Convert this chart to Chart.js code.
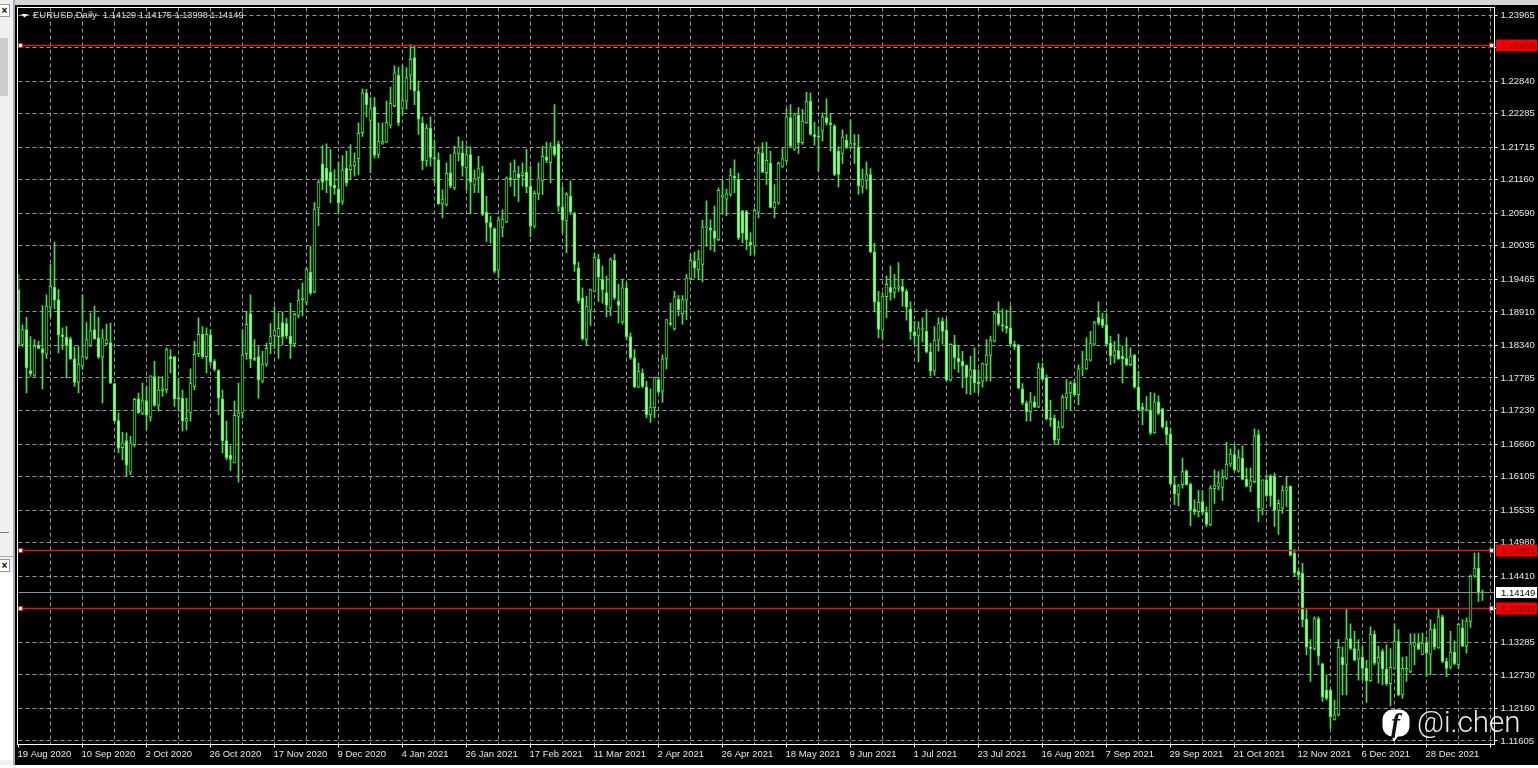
<!DOCTYPE html>
<html>
<head>
<meta charset="utf-8">
<title>EURUSD Daily</title>
<script src="https://cdn.jsdelivr.net/npm/chart.js@4/dist/chart.umd.min.js"></script>
<style>
  html, body { margin: 0; padding: 0; background: #000; overflow: hidden; }
  #wrap { position: relative; width: 1538px; height: 768px; overflow: hidden; }
  #chart { position: absolute; left: 0; top: 0; }
  .ui { position: absolute; }
  .closeBtn { position: absolute; left: 0; width: 9px; height: 11px; background: #fff; border: 1px solid #999; border-left: 0;
    font: bold 10px/11px "Liberation Sans", sans-serif; color: #000; text-align: center; }
  #fb { position: absolute; left: 1382px; top: 709px; }
  #tag { position: absolute; left: 1417px; top: 703px; font: 300 29.5px/38px Roboto, sans-serif; color: rgba(255,255,255,0.92); white-space: nowrap; }
</style>
</head>
<body>
<div id="wrap">
  <div class="ui" style="left:0;top:0;width:1538px;height:5px;background:#d4d4d4"></div>
  <div class="ui" style="left:0;top:0;width:13px;height:765px;background:#f0f0f0"></div>
  <div class="ui" style="left:13px;top:0;width:2px;height:765px;background:#a9a9a9"></div>
  <div class="ui" style="left:0;top:38px;width:8px;height:58px;background:#cdcdcd"></div>
  <div class="ui" style="left:0;top:532px;width:9px;height:1px;background:#777"></div>
  <div class="ui" style="left:0;top:556px;width:13px;height:1px;background:#aaa"></div>
  <div class="ui" style="left:0;top:573px;width:13px;height:187px;background:#fff"></div>
  <div class="ui" style="left:0;top:765px;width:1538px;height:3px;background:#fff"></div>
  <div class="closeBtn" style="top:4px">×</div>
  <div class="closeBtn" style="top:559px">×</div>
  <canvas id="chart" width="1538" height="768"></canvas>
  <svg id="fb" width="28" height="34" viewBox="0 0 28 34">
    <rect x="0.5" y="0.5" width="27" height="27" rx="10" fill="#fff"/>
    <polygon points="8,24 17,26 12,33" fill="#fff"/>
    <text x="13.5" y="23" text-anchor="middle" font-family="Liberation Serif" font-style="italic" font-weight="bold" font-size="27" fill="#111">f</text>
  </svg>
  <div id="tag">@i.chen</div>
</div>
<script>
const dateLabels = ["19 Aug 2020", "10 Sep 2020", "2 Oct 2020", "26 Oct 2020", "17 Nov 2020", "9 Dec 2020", "4 Jan 2021", "26 Jan 2021",
  "17 Feb 2021", "11 Mar 2021", "2 Apr 2021", "26 Apr 2021", "18 May 2021", "9 Jun 2021", "1 Jul 2021", "23 Jul 2021",
  "16 Aug 2021", "7 Sep 2021", "29 Sep 2021", "21 Oct 2021", "12 Nov 2021", "6 Dec 2021", "28 Dec 2021"];

const priceTicks = [1.23965, 1.2341, 1.2284, 1.22285, 1.21715, 1.2116, 1.2059, 1.20035, 1.19465, 1.1891, 1.1834, 1.17785,
  1.1723, 1.1666, 1.16105, 1.15535, 1.1498, 1.1441, 1.13855, 1.13285, 1.1273, 1.1216, 1.11605];

const redLevels = [1.23458, 1.14861, 1.13862];
const lastPrice = 1.14149;

const opens = [
  1.1929,1.1835,1.1861,1.1791,1.1783,1.1834,1.1828,1.1819,1.1899,1.1933,1.1912,1.1852,1.1848,1.1845,1.1811,1.1771,
  1.1799,1.1813,1.1834,1.1861,1.1847,1.1814,1.1837,1.1839,1.1769,1.1706,1.1660,1.1672,1.1618,1.1665,1.1743,1.1718,
  1.1740,1.1712,1.1781,1.1732,1.1757,1.1758,1.1815,1.1815,1.1744,1.1744,1.1705,1.1719,1.1764,1.1820,1.1853,1.1815,
  1.1852,1.1807,1.1791,1.1743,1.1672,1.1647,1.1634,1.1713,1.1719,1.1820,1.1888,1.1812,1.1815,1.1773,1.1802,1.1837,
  1.1850,1.1849,1.1873,1.1871,1.1850,1.1837,1.1885,1.1912,1.1907,1.1959,1.1925,1.2068,1.2143,1.2136,1.2129,1.2107,
  1.2100,1.2079,1.2136,1.2133,1.2140,1.2152,1.2196,1.2264,1.2217,1.2240,1.2159,1.2178,1.2180,1.2209,1.2242,1.2294,
  1.2238,1.2250,1.2294,1.2324,1.2267,1.2213,1.2148,1.2204,1.2153,1.2150,1.2075,1.2074,1.2128,1.2102,1.2161,1.2162,
  1.2136,1.2159,1.2107,1.2119,1.2128,1.2061,1.2043,1.2033,1.1962,1.2035,1.2044,1.2119,1.2116,1.2126,1.2123,1.2129,
  1.2105,1.2037,1.2092,1.2114,1.2155,1.2145,1.2173,1.2177,1.2070,1.2046,1.2088,1.2059,1.1966,1.1915,1.1844,1.1894,
  1.1926,1.1981,1.1947,1.1924,1.1898,1.1979,1.1909,1.1874,1.1932,1.1849,1.1813,1.1763,1.1787,1.1763,1.1716,1.1728,
  1.1776,1.1756,1.1811,1.1872,1.1862,1.1913,1.1888,1.1911,1.1947,1.1978,1.1963,1.1972,1.2035,1.2034,1.2029,1.2014,
  1.2087,1.2083,1.2091,1.2122,1.2117,1.2063,1.2062,1.2010,1.2003,1.2061,1.2162,1.2128,1.2144,1.2068,1.2076,1.2138,
  1.2148,1.2222,1.2168,1.2226,1.2179,1.2213,1.2250,1.2193,1.2190,1.2199,1.2222,1.2213,1.2208,1.2165,1.2161,1.2183,
  1.2171,1.2177,1.2172,1.2104,1.2115,1.2125,1.1993,1.1908,1.1860,1.1917,1.1933,1.1924,1.1931,1.1934,1.1926,1.1896,
  1.1857,1.1850,1.1861,1.1858,1.1823,1.1790,1.1843,1.1875,1.1860,1.1775,1.1835,1.1812,1.1807,1.1800,1.1781,1.1793,
  1.1771,1.1773,1.1801,1.1817,1.1841,1.1888,1.1869,1.1867,1.1864,1.1836,1.1834,1.1760,1.1736,1.1721,1.1738,1.1729,
  1.1796,1.1779,1.1709,1.1710,1.1673,1.1695,1.1745,1.1753,1.1770,1.1750,1.1794,1.1794,1.1809,1.1836,1.1882,1.1879,
  1.1869,1.1838,1.1816,1.1825,1.1816,1.1812,1.1801,1.1817,1.1763,1.1729,1.1723,1.1724,1.1685,1.1738,1.1726,1.1695,
  1.1683,1.1597,1.1580,1.1597,1.1620,1.1598,1.1555,1.1551,1.1568,1.1550,1.1529,1.1590,1.1594,1.1592,1.1608,1.1632,
  1.1648,1.1620,1.1642,1.1606,1.1594,1.1602,1.1682,1.1555,1.1605,1.1612,1.1612,1.1553,1.1557,1.1587,1.1594,1.1480,
  1.1449,1.1446,1.1368,1.1320,1.1318,1.1369,1.1292,1.1247,1.1247,1.1197,1.1205,1.1303,1.1291,1.1335,1.1318,1.1300,
  1.1303,1.1284,1.1263,1.1342,1.1293,1.1313,1.1283,1.1258,1.1284,1.1330,1.1239,1.1281,1.1279,1.1322,1.1327,1.1308,
  1.1328,1.1308,1.1351,1.1319,1.1372,1.1296,1.1286,1.1312,1.1290,1.1353,1.1322,1.1364,1.1441,1.1455,1.14129];

const highs = [
  1.1955,1.1869,1.1882,1.1849,1.1844,1.1841,1.1902,1.1920,1.1972,1.2010,1.1929,1.1864,1.1866,1.1848,1.1832,1.1832,
  1.1920,1.1873,1.1889,1.1901,1.1882,1.1861,1.1870,1.1872,1.1769,1.1719,1.1686,1.1685,1.1679,1.1744,1.1753,1.1770,
  1.1764,1.1782,1.1807,1.1781,1.1781,1.1830,1.1827,1.1815,1.1778,1.1758,1.1744,1.1794,1.1841,1.1881,1.1866,1.1864,
  1.1861,1.1810,1.1793,1.1758,1.1705,1.1662,1.1739,1.1770,1.1861,1.1892,1.1920,1.1844,1.1832,1.1824,1.1838,1.1871,
  1.1900,1.1889,1.1891,1.1880,1.1906,1.1889,1.1929,1.1940,1.1966,1.2003,1.2077,1.2116,1.2174,1.2177,1.2168,1.2133,
  1.2146,1.2157,1.2165,1.2176,1.2162,1.2213,1.2271,1.2270,1.2256,1.2256,1.2213,1.2213,1.2250,1.2274,1.2310,1.2308,
  1.2311,1.2307,1.2346,1.2345,1.2284,1.2223,1.2210,1.2223,1.2184,1.2162,1.2099,1.2145,1.2159,1.2173,1.2189,1.2182,
  1.2174,1.2172,1.2133,1.2156,1.2139,1.2088,1.2054,1.2034,1.2053,1.2065,1.2121,1.2145,1.2150,1.2139,1.2145,1.2168,
  1.2139,1.2097,1.2145,1.2173,1.2180,1.2179,1.2244,1.2182,1.2104,1.2094,1.2114,1.2061,1.1976,1.1932,1.1918,1.1930,
  1.1991,1.1989,1.1969,1.1952,1.1983,1.1989,1.1938,1.1947,1.1941,1.1855,1.1827,1.1804,1.1794,1.1773,1.1760,1.1780,
  1.1780,1.1818,1.1878,1.1906,1.1926,1.1919,1.1919,1.1955,1.1989,1.1993,1.1996,1.2047,1.2080,1.2048,1.2071,1.2102,
  1.2115,1.2100,1.2135,1.2150,1.2127,1.2064,1.2064,1.2026,1.2067,1.2172,1.2179,1.2180,1.2165,1.2108,1.2146,1.2169,
  1.2236,1.2244,1.2229,1.2239,1.2236,1.2265,1.2264,1.2214,1.2206,1.2230,1.2254,1.2229,1.2210,1.2172,1.2201,1.2193,
  1.2218,1.2193,1.2193,1.2134,1.2146,1.2135,1.2008,1.1926,1.1924,1.1952,1.1969,1.1955,1.1975,1.1945,1.1930,1.1908,
  1.1875,1.1874,1.1881,1.1895,1.1838,1.1866,1.1881,1.1881,1.1879,1.1837,1.1851,1.1833,1.1824,1.1801,1.1816,1.1830,
  1.1793,1.1804,1.1844,1.1850,1.1892,1.1908,1.1896,1.1894,1.1901,1.1841,1.1836,1.1769,1.1739,1.1754,1.1747,1.1804,
  1.1804,1.1784,1.1741,1.1716,1.1705,1.1750,1.1776,1.1773,1.1776,1.1801,1.1824,1.1847,1.1858,1.1875,1.1908,1.1889,
  1.1888,1.1850,1.1841,1.1853,1.1833,1.1847,1.1830,1.1819,1.1790,1.1736,1.1747,1.1754,1.1753,1.1748,1.1727,1.1705,
  1.1693,1.1611,1.1597,1.1642,1.1622,1.1600,1.1571,1.1587,1.1587,1.1559,1.1595,1.1622,1.1619,1.1622,1.1669,1.1658,
  1.1666,1.1656,1.1663,1.1625,1.1625,1.1692,1.1690,1.1605,1.1614,1.1614,1.1617,1.1571,1.1595,1.1610,1.1595,1.1487,
  1.1452,1.1463,1.1384,1.1333,1.1372,1.1372,1.1293,1.1273,1.1248,1.1230,1.1333,1.1321,1.1385,1.1360,1.1347,1.1333,
  1.1321,1.1298,1.1355,1.1348,1.1322,1.1317,1.1324,1.1318,1.1360,1.1350,1.1303,1.1304,1.1343,1.1343,1.1343,1.1344,
  1.1338,1.1367,1.1360,1.1385,1.1375,1.1301,1.1347,1.1331,1.1361,1.1367,1.1370,1.1443,1.1481,1.1481,1.14175];

const lows = [
  1.1830,1.1832,1.1753,1.1781,1.1781,1.1828,1.1760,1.1812,1.1882,1.1896,1.1821,1.1827,1.1778,1.1810,1.1764,1.1753,
  1.1793,1.1810,1.1832,1.1844,1.1812,1.1736,1.1835,1.1769,1.1705,1.1651,1.1639,1.1612,1.1614,1.1661,1.1718,1.1716,
  1.1690,1.1705,1.1730,1.1722,1.1747,1.1753,1.1787,1.1730,1.1722,1.1688,1.1690,1.1705,1.1758,1.1815,1.1812,1.1787,
  1.1801,1.1790,1.1716,1.1651,1.1639,1.1621,1.1634,1.1601,1.1710,1.1810,1.1796,1.1808,1.1744,1.1770,1.1798,1.1820,
  1.1829,1.1812,1.1835,1.1846,1.1812,1.1832,1.1881,1.1884,1.1903,1.1920,1.1923,1.2038,1.2099,1.2094,1.2077,1.2091,
  1.2060,1.2074,1.2105,1.2116,1.2122,1.2125,1.2190,1.2223,1.2128,1.2153,1.2153,1.2176,1.2179,1.2204,1.2240,1.2208,
  1.2227,1.2236,1.2270,1.2244,1.2193,1.2133,1.2139,1.2139,1.2111,1.2074,1.2051,1.2071,1.2102,1.2099,1.2148,1.2122,
  1.2099,1.2058,1.2094,1.2094,1.2055,1.2011,1.2008,1.1957,1.1949,1.2019,1.2043,1.2105,1.2088,1.2079,1.2105,1.2094,
  1.2019,1.2034,1.2082,1.2091,1.2145,1.2111,1.2156,1.2062,1.2026,1.1992,1.2057,1.1960,1.1906,1.1843,1.1834,1.1868,
  1.1925,1.1909,1.1906,1.1883,1.1884,1.1912,1.1872,1.1870,1.1844,1.1810,1.1762,1.1762,1.1762,1.1711,1.1703,1.1711,
  1.1753,1.1737,1.1794,1.1867,1.1860,1.1884,1.1870,1.1878,1.1946,1.1949,1.1946,1.1942,1.2003,1.1997,1.1993,1.2012,
  1.2057,1.2055,1.2088,1.2094,1.2014,1.2009,1.1997,1.1987,1.1989,1.2051,1.2128,1.2108,1.2068,1.2051,1.2074,1.2137,
  1.2146,1.2172,1.2166,1.2161,1.2176,1.2212,1.2192,1.2175,1.2131,1.2182,1.2209,1.2165,1.2123,1.2104,1.2144,1.2169,
  1.2169,1.2144,1.2091,1.2093,1.2100,1.1992,1.1891,1.1847,1.1845,1.1881,1.1911,1.1915,1.1926,1.1901,1.1877,1.1844,
  1.1836,1.1806,1.1840,1.1821,1.1782,1.1783,1.1824,1.1836,1.1773,1.1773,1.1794,1.1788,1.1762,1.1752,1.1750,1.1754,
  1.1753,1.1763,1.1773,1.1773,1.1840,1.1867,1.1858,1.1855,1.1833,1.1827,1.1760,1.1733,1.1705,1.1705,1.1728,1.1728,
  1.1776,1.1707,1.1696,1.1665,1.1665,1.1693,1.1725,1.1725,1.1747,1.1733,1.1782,1.1793,1.1807,1.1834,1.1869,1.1864,
  1.1835,1.1801,1.1804,1.1810,1.1770,1.1799,1.1799,1.1761,1.1722,1.1699,1.1722,1.1682,1.1684,1.1716,1.1693,1.1665,
  1.1597,1.1563,1.1561,1.1591,1.1596,1.1527,1.1546,1.1542,1.1546,1.1526,1.1527,1.1565,1.1588,1.1570,1.1606,1.1628,
  1.1620,1.1618,1.1605,1.1593,1.1585,1.1600,1.1534,1.1546,1.1576,1.1560,1.1526,1.1512,1.1548,1.1560,1.1475,1.1441,
  1.1435,1.1355,1.1307,1.1262,1.1315,1.1290,1.1228,1.1230,1.1182,1.1196,1.1203,1.1239,1.1239,1.1316,1.1297,1.1264,
  1.1264,1.1226,1.1262,1.1290,1.1259,1.1256,1.1255,1.1220,1.1283,1.1237,1.1233,1.1262,1.1277,1.1290,1.1316,1.1307,
  1.1270,1.1273,1.1316,1.1318,1.1294,1.1270,1.1283,1.1290,1.1284,1.1321,1.1310,1.1354,1.1439,1.1398,1.13998];

const closes = [
  1.1835,1.1861,1.1796,1.1786,1.1833,1.1829,1.1821,1.1901,1.1935,1.1911,1.1852,1.1849,1.1834,1.1811,1.1771,1.1802,
  1.1815,1.1844,1.1859,1.1845,1.1814,1.1847,1.1844,1.1770,1.1706,1.1659,1.1668,1.1630,1.1668,1.1742,1.1719,1.1740,
  1.1715,1.1782,1.1732,1.1758,1.1760,1.1827,1.1811,1.1743,1.1743,1.1705,1.1710,1.1770,1.1819,1.1853,1.1815,1.1853,
  1.1806,1.1793,1.1744,1.1672,1.1643,1.1640,1.1715,1.1719,1.1818,1.1870,1.1811,1.1810,1.1775,1.1802,1.1829,1.1849,
  1.1860,1.1863,1.1849,1.1850,1.1836,1.1887,1.1911,1.1915,1.1964,1.1923,1.2066,1.2112,1.2112,1.2115,1.2105,1.2102,
  1.2077,1.2133,1.2110,1.2140,1.2147,1.2195,1.2264,1.2244,1.2237,1.2158,1.2181,1.2182,1.2214,1.2246,1.2298,1.2213,
  1.2251,1.2290,1.2321,1.2267,1.2219,1.2148,1.2204,1.2154,1.2152,1.2075,1.2083,1.2127,1.2105,1.2162,1.2172,1.2139,
  1.2159,1.2112,1.2118,1.2135,1.2057,1.2043,1.2035,1.1960,1.2048,1.2049,1.2119,1.2116,1.2131,1.2119,1.2128,1.2104,
  1.2037,1.2093,1.2118,1.2156,1.2149,1.2172,1.2159,1.2071,1.2047,1.2091,1.2061,1.1972,1.1910,1.1845,1.1901,1.1929,
  1.1984,1.1950,1.1929,1.1902,1.1980,1.1915,1.1902,1.1932,1.1849,1.1813,1.1763,1.1790,1.1764,1.1716,1.1729,1.1779,
  1.1755,1.1811,1.1878,1.1870,1.1917,1.1895,1.1912,1.1949,1.1979,1.1966,1.1981,1.2036,1.2036,1.2030,1.2016,1.2098,
  1.2090,1.2092,1.2124,1.2119,1.2017,1.2025,1.2014,1.2005,1.2064,1.2162,1.2129,1.2149,1.2069,1.2078,1.2144,1.2152,
  1.2223,1.2173,1.2227,1.2179,1.2216,1.2250,1.2193,1.2189,1.2189,1.2223,1.2213,1.2210,1.2125,1.2125,1.2189,1.2172,
  1.2179,1.2176,1.2106,1.2117,1.2125,1.1993,1.1908,1.1861,1.1918,1.1938,1.1924,1.1932,1.1934,1.1926,1.1899,1.1857,
  1.1850,1.1864,1.1862,1.1823,1.1790,1.1843,1.1871,1.1858,1.1775,1.1836,1.1813,1.1806,1.1799,1.1780,1.1793,1.1770,
  1.1769,1.1803,1.1818,1.1843,1.1889,1.1870,1.1867,1.1863,1.1836,1.1832,1.1762,1.1736,1.1721,1.1738,1.1729,1.1796,
  1.1776,1.1709,1.1708,1.1673,1.1695,1.1746,1.1753,1.1770,1.1750,1.1794,1.1796,1.1810,1.1838,1.1873,1.1872,1.1868,
  1.1836,1.1816,1.1825,1.1811,1.1811,1.1801,1.1816,1.1763,1.1724,1.1725,1.1725,1.1685,1.1738,1.1718,1.1695,1.1682,
  1.1598,1.1581,1.1595,1.1619,1.1597,1.1554,1.1551,1.1567,1.1550,1.1529,1.1591,1.1596,1.1600,1.1610,1.1632,1.1649,
  1.1622,1.1644,1.1606,1.1594,1.1604,1.1680,1.1557,1.1605,1.1578,1.1578,1.1553,1.1565,1.1587,1.1592,1.1477,1.1447,
  1.1443,1.1367,1.1320,1.1318,1.1369,1.1305,1.1235,1.1233,1.1202,1.1205,1.1320,1.1290,1.1335,1.1318,1.1298,1.1316,
  1.1284,1.1263,1.1342,1.1293,1.1303,1.1283,1.1258,1.1286,1.1330,1.1239,1.1284,1.1284,1.1326,1.1328,1.1317,1.1327,
  1.1310,1.1351,1.1320,1.1372,1.1296,1.1284,1.1312,1.1292,1.1359,1.1322,1.1365,1.1441,1.1455,1.1412,1.14149];

// 3 empty slots after the last bar, the terminal leaves a small gap on the right
const barLabels = [];
for (let i = 0; i < opens.length + 3; i++) {
  barLabels.push(i % 16 === 0 && dateLabels[i / 16] ? dateLabels[i / 16] : "");
}

const GREEN = "#45e045";
const axisFont = { family: "'Liberation Sans', sans-serif", size: 9.5 };

const terminalPlugin = {
  id: "terminal",
  afterDraw(chart) {
    const { ctx, chartArea: area, scales } = chart;
    const y = scales.y;
    ctx.save();
    ctx.font = "9.5px 'Liberation Sans', sans-serif";
    ctx.textBaseline = "middle";
    ctx.textAlign = "left";

    // last price line
    const lastY = Math.round(y.getPixelForValue(lastPrice)) + 0.5;
    ctx.strokeStyle = "#8b9299";
    ctx.lineWidth = 1;
    ctx.beginPath();
    ctx.moveTo(area.left, lastY);
    ctx.lineTo(area.right, lastY);
    ctx.stroke();
    ctx.fillStyle = "#fff";
    ctx.fillRect(1496, lastY - 5.5, 41, 11);
    ctx.fillStyle = "#000";
    ctx.fillText(lastPrice.toFixed(5), 1501, lastY + 0.5);

    // horizontal levels
    redLevels.forEach((lvl) => {
      const py = Math.round(y.getPixelForValue(lvl)) + 0.5;
      ctx.strokeStyle = "#cc2020";
      ctx.lineWidth = 1.4;
      ctx.beginPath();
      ctx.moveTo(area.left, py);
      ctx.lineTo(area.right, py);
      ctx.stroke();
      ctx.fillStyle = "#f00000";
      ctx.fillRect(1496, py - 6, 41, 12);
      ctx.fillStyle = "#7a0000";
      ctx.fillText(lvl.toFixed(5), 1501, py + 0.5);
      ctx.lineWidth = 1;
      [20.5, 1491.5].forEach((mx) => {
        ctx.fillStyle = "#fff";
        ctx.strokeStyle = "#e02020";
        ctx.fillRect(mx - 2, py - 2, 4, 4);
        ctx.strokeRect(mx - 2, py - 2, 4, 4);
      });
    });

    // frame
    ctx.strokeStyle = "#fff";
    ctx.lineWidth = 1;
    ctx.strokeRect(area.left - 1, area.top, area.right - area.left + 1, area.bottom - area.top);

    // header
    ctx.fillStyle = "#fff";
    ctx.beginPath();
    ctx.moveTo(21, 14);
    ctx.lineTo(28, 14);
    ctx.lineTo(24.5, 17.5);
    ctx.closePath();
    ctx.fill();
    ctx.fillStyle = "#dcdcdc";
    ctx.font = "9.5px 'Liberation Sans', sans-serif";
    ctx.fillText("EURUSD,Daily", 33, 15.5);
    ctx.font = "9.2px 'Liberation Sans', sans-serif";
    ctx.fillText("1.14129 1.14175 1.13998 1.14149", 103, 15.5);
    ctx.restore();
  },
};

new Chart("chart", {
  type: "bar",
  data: {
    labels: barLabels,
    datasets: [
      {
        label: "body",
        data: opens.map((o, i) => [Math.min(o, closes[i]), Math.max(o, closes[i])]),
        barThickness: 3,
        minBarLength: 1,
        borderWidth: 1,
        borderSkipped: false,
        borderColor: GREEN,
        backgroundColor: (c) => (closes[c.dataIndex] >= opens[c.dataIndex] ? "#000" : "#a4f2a4"),
      },
      {
        label: "wick",
        data: lows.map((l, i) => [l, highs[i]]),
        barThickness: 1,
        backgroundColor: GREEN,
      },
    ],
  },
  options: {
    responsive: false,
    animation: false,
    events: [],
    layout: { padding: { left: 18.5, top: 7.5, right: 0, bottom: 0 } },
    datasets: { bar: { grouped: false } },
    plugins: { legend: { display: false }, tooltip: { enabled: false }, title: { display: false } },
    scales: {
      x: {
        type: "category",
        offset: false,
        afterBuildTicks: (axis) => {
          axis.ticks = axis.ticks.filter((t) => t.value % 8 === 0);
        },
        afterFit: (axis) => {
          axis.height = 23.5;
          axis.paddingLeft = 0;
          axis.paddingRight = 0;
        },
        grid: {
          offset: false,
          color: (c) => (c.index === 0 ? "transparent" : "#969696"),
          tickColor: (c) => (c.tick && c.tick.value % 16 === 0 ? "#fff" : "transparent"),
          tickLength: 3,
        },
        border: { dash: [4, 3], display: false },
        ticks: {
          autoSkip: false,
          maxRotation: 0,
          align: "start",
          labelOffset: -1,
          padding: 1,
          color: "#e8e8e8",
          font: axisFont,
          callback: (value) => barLabels[value],
        },
      },
      y: {
        position: "right",
        min: 1.11545,
        max: 1.24093,
        afterBuildTicks: (axis) => {
          axis.ticks = priceTicks.map((v) => ({ value: v }));
        },
        afterFit: (axis) => {
          axis.width = 43.5;
          axis.paddingTop = 0;
          axis.paddingBottom = 0;
        },
        grid: { color: "#969696", tickColor: "#fff", tickLength: 3 },
        border: { dash: [4, 3], display: false },
        ticks: {
          autoSkip: false,
          padding: 3,
          color: "#e8e8e8",
          font: axisFont,
          callback: (value) => value.toFixed(5),
        },
      },
    },
  },
  plugins: [terminalPlugin],
});
</script>
</body>
</html>
